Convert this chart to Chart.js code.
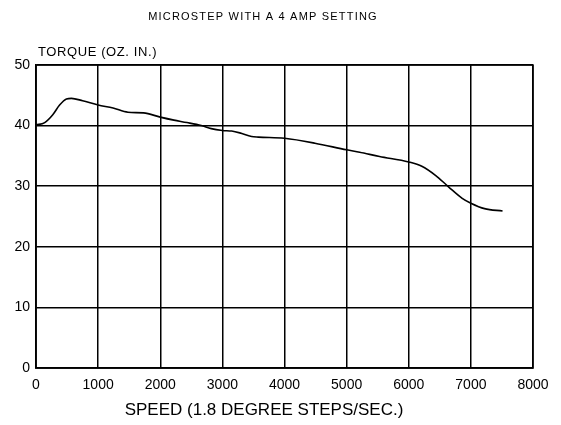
<!DOCTYPE html>
<html>
<head>
<meta charset="utf-8">
<script src="https://cdn.jsdelivr.net/npm/chart.js@4/dist/chart.umd.min.js"></script>
<style>
  html, body { margin: 0; padding: 0; background: #fff; }
  #wrap { width: 561px; height: 425px; }
</style>
</head>
<body>
<div id="wrap"><canvas id="c" width="561" height="425"></canvas></div>
<script>
const chartTitle = "MICROSTEP WITH A 4 AMP SETTING";
const yAxisTitle = "TORQUE (OZ. IN.)";
const xAxisTitle = "SPEED (1.8 DEGREE STEPS/SEC.)";
const xTicks = [0, 1000, 2000, 3000, 4000, 5000, 6000, 7000, 8000];
const yTicks = [0, 10, 20, 30, 40, 50];
const speed = [0, 140, 270, 380, 490, 570, 750, 1000, 1240, 1480, 1730, 2000, 2220, 2430, 2660, 2820, 3000, 3150, 3280, 3470, 3580, 4000, 4490, 5000, 5210, 5530, 6000, 6210, 6430, 6640, 6860, 7000, 7220, 7510];
const torque = [40.1, 40.5, 41.8, 43.4, 44.4, 44.5, 44.1, 43.4, 42.9, 42.2, 42.1, 41.4, 40.9, 40.5, 40.0, 39.5, 39.2, 39.1, 38.8, 38.2, 38.1, 37.9, 37.1, 36.0, 35.6, 34.9, 34.0, 33.3, 31.8, 29.9, 28.0, 27.2, 26.3, 25.9];

const FONT = "'Liberation Sans', Arial, sans-serif";

const textPlugin = {
  id: 'texts',
  afterDraw(chart) {
    const ctx = chart.ctx;
    const a = chart.chartArea;
    ctx.save();
    ctx.fillStyle = '#000';
    ctx.textBaseline = 'middle';
    ctx.textAlign = 'center';
    ctx.font = "11px " + FONT;
    ctx.letterSpacing = "1.2px";
    ctx.fillText(chartTitle, 263, 17);
    ctx.textAlign = 'left';
    ctx.font = "13px " + FONT;
    ctx.letterSpacing = "0.6px";
    ctx.fillText(yAxisTitle, 38, 52);
    ctx.textAlign = 'center';
    ctx.font = "17px " + FONT;
    ctx.letterSpacing = "0px";
    ctx.fillText(xAxisTitle, 264, 410);
    ctx.restore();
  }
};

new Chart(document.getElementById('c'), {
  type: 'line',
  data: {
    datasets: [{
      data: speed.map((s, i) => ({x: s, y: torque[i]})),
      borderColor: '#000',
      borderWidth: 1.6,
      pointRadius: 0,
      fill: false,
      cubicInterpolationMode: 'monotone'
    }]
  },
  options: {
    responsive: false,
    animation: false,
    devicePixelRatio: 1,
    layout: { padding: { top: 65, right: 28, left: 0, bottom: 0 } },
    plugins: { legend: { display: false }, title: { display: false }, tooltip: { enabled: false } },
    scales: {
      x: {
        type: 'linear',
        min: 0, max: 8000,
        afterBuildTicks: (s) => { s.ticks = xTicks.map(v => ({value: v})); },
        afterFit: (s) => { s.height = 57; },
        grid: { color: '#000', lineWidth: 1.5, drawTicks: false },
        border: { color: '#000', width: 1.5 },
        ticks: { color: '#000', font: { family: FONT, size: 14 }, padding: 9, maxRotation: 0, autoSkip: false,
                 callback: (v) => String(v) }
      },
      y: {
        min: 0, max: 50,
        afterBuildTicks: (s) => { s.ticks = yTicks.map(v => ({value: v})); },
        afterFit: (s) => { s.width = 36; },
        grid: { color: '#000', lineWidth: 1.5, drawTicks: false },
        border: { color: '#000', width: 1.5 },
        ticks: { color: '#000', font: { family: FONT, size: 14 }, padding: 6, callback: (v) => String(v) }
      }
    }
  },
  plugins: [textPlugin, {
    id: 'frame',
    afterDatasetsDraw(chart) {
      const {ctx, chartArea: a} = chart;
      ctx.save();
      ctx.strokeStyle = '#000';
      ctx.lineWidth = 1.5;
      ctx.strokeRect(a.left, a.top, a.right - a.left, a.bottom - a.top);
      ctx.restore();
    }
  }]
});
</script>
</body>
</html>
